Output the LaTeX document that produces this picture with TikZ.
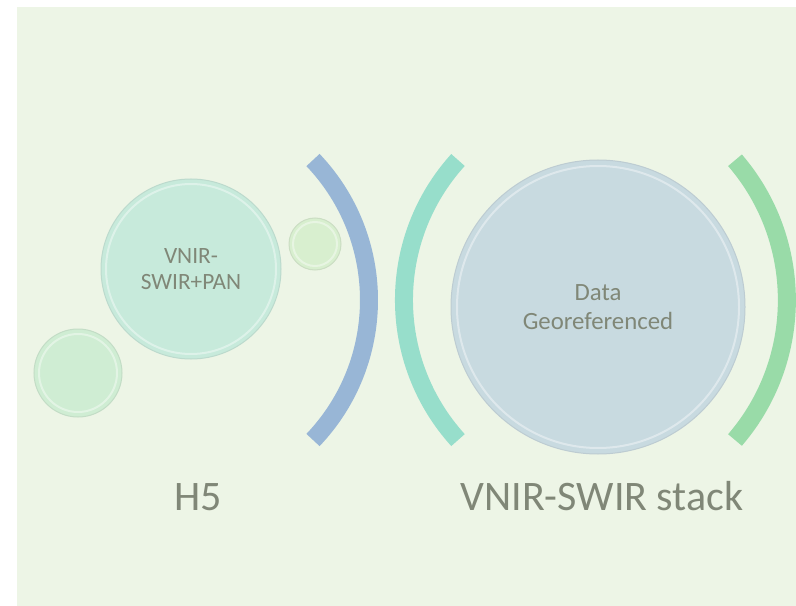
\documentclass[tikz,border=0pt]{standalone}
\usepackage{fontspec}
\setmainfont{Carlito}
\definecolor{bgfill}{RGB}{237,245,230}
\definecolor{labelgray}{RGB}{128,135,119}
\definecolor{mintfill}{RGB}{199,234,219}
\definecolor{pastelgreen}{RGB}{207,237,211}
\definecolor{limefill}{RGB}{216,239,207}
\definecolor{steelfill}{RGB}{200,218,224}
\definecolor{bluearc}{RGB}{152,182,214}
\definecolor{tealarc}{RGB}{151,222,203}
\definecolor{greenarc}{RGB}{153,219,168}
\tikzset{disc/.style = {shape=circle,inner sep=0pt,align=center,text=labelgray,fill=#1,draw=#1!85!gray,line width=0.75pt}}
\tikzset{ring/.style = {draw=white,opacity=0.4,line width=1.5pt}}
\tikzset{band/.style = {line width=13.5pt,line cap=butt}}
\tikzset{caption/.style = {anchor=base,text=labelgray,font=\fontsize{31.5}{38}\selectfont}}

\begin{document}
\begin{tikzpicture}[x=0.75pt,y=0.75pt]
                \useasboundingbox (0,0) rectangle (796,-606);
                \fill[bgfill] (17,-7) rectangle (796,-606);
                \node[disc=pastelgreen, minimum size=66pt] (corner) at (78,-373) {};
                \draw[ring] (corner.center) circle[radius=39];
                \node[disc=mintfill, minimum size=135pt, font=\fontsize{17.5}{19.5}\selectfont] (vnir) at (191,-269) {VNIR-\\SWIR+PAN};
                \draw[ring] (vnir.center) circle[radius=85];
                \node[disc=limefill, minimum size=39pt] (bead) at (315,-244) {};
                \draw[ring] (bead.center) circle[radius=22];
                \draw[band, bluearc] (313,-440) arc[start angle=-43.6, end angle=43.6, radius=203];
                \draw[band, tealarc] (458,-160) arc[start angle=137.8, end angle=222.2, radius=208.5];
                \node[disc=steelfill, minimum size=220.5pt, font=\fontsize{18.6}{21.75}\selectfont] (data) at (598,-307) {Data\\Georeferenced};
                \draw[ring] (data.center) circle[radius=141];
                \draw[band, greenarc] (735,-440) arc[start angle=-40.7, end angle=40.7, radius=214.5];
                \node[caption] (h5) at (198,-510) {H5};
                \node[caption] (stack) at (602,-510) {VNIR-SWIR stack};
            \end{tikzpicture}
\end{document}
